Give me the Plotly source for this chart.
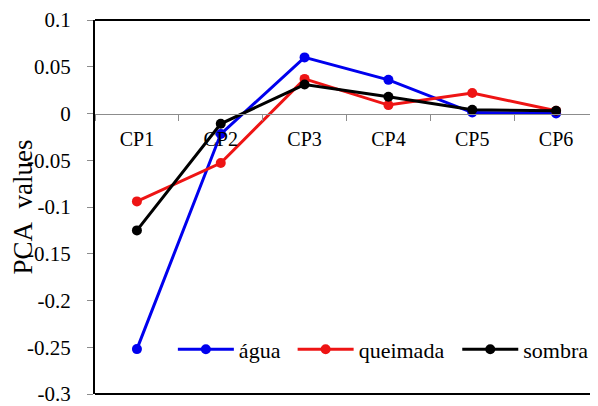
import plotly.graph_objects as go

categories = ["CP1", "CP2", "CP3", "CP4", "CP5", "CP6"]
agua = [-0.252, -0.022, 0.060, 0.036, 0.001, 0.0]
queimada = [-0.094, -0.053, 0.037, 0.009, 0.022, 0.003]
sombra = [-0.125, -0.011, 0.031, 0.018, 0.004, 0.003]
series_names = ["água", "queimada", "sombra"]
ytick_vals = [0.1, 0.05, 0, -0.05, -0.1, -0.15, -0.2, -0.25, -0.3]
ytick_text = ["0.1", "0.05", "0", "-0.05", "-0.1", "-0.15", "-0.2", "-0.25", "-0.3"]

colors = ["#0000EE", "#EE1414", "#000000"]
legend_ids = ["legend", "legend2", "legend3"]
legend_x = [0.1548, 0.3929, 0.7202]
FONT = "Liberation Serif"

fig = go.Figure()
for name, vals, col, lg in zip(series_names, [agua, queimada, sombra], colors, legend_ids):
    fig.add_trace(go.Scatter(
        x=categories, y=vals, name=name, mode="lines+markers",
        line=dict(color=col, width=3),
        marker=dict(color=col, size=10),
        legend=lg,
    ))

legend_style = dict(
    orientation="h", xanchor="left", y=0.119, yanchor="middle",
    bgcolor="rgba(0,0,0,0)", font=dict(family=FONT, size=22),
    itemwidth=56, borderwidth=0,
)

fig.update_layout(
    width=590, height=398,
    margin=dict(l=86, r=0, t=9, b=10),
    plot_bgcolor="white", paper_bgcolor="white",
    font=dict(family=FONT, size=20, color="black"),
    showlegend=True,
    legend=dict(x=legend_x[0], **legend_style),
    legend2=dict(x=legend_x[1], **legend_style),
    legend3=dict(x=legend_x[2], **legend_style),
    xaxis=dict(
        type="category", range=[-0.5, 5.5],
        anchor="free", position=0.75,
        showline=True, linecolor="#8c8c8c", linewidth=1,
        ticks="outside", tickson="boundaries", ticklen=6, tickcolor="#8c8c8c",
        showgrid=False, zeroline=False, ticklabelstandoff=7,
        tickfont=dict(family=FONT, size=20),
    ),
    yaxis=dict(
        range=[-0.3, 0.1], tickvals=ytick_vals, ticktext=ytick_text,
        showline=True, linecolor="black", linewidth=2,
        ticks="outside", ticklen=6, tickcolor="#8c8c8c",
        showgrid=False, zeroline=False, ticklabelstandoff=12,
        ticklabeloverflow="allow",
        tickfont=dict(family=FONT, size=21),
        title=dict(text="PCA\u00a0\u00a0values", font=dict(family=FONT, size=27), standoff=0),
    ),
    shapes=[
        dict(type="line", xref="paper", yref="paper", x0=0, x1=1, y0=1, y1=1,
             line=dict(color="black", width=2)),
        dict(type="line", xref="paper", yref="paper", x0=0, x1=1, y0=0, y1=0,
             line=dict(color="black", width=2)),
    ],
)

fig.write_html("out.html")
